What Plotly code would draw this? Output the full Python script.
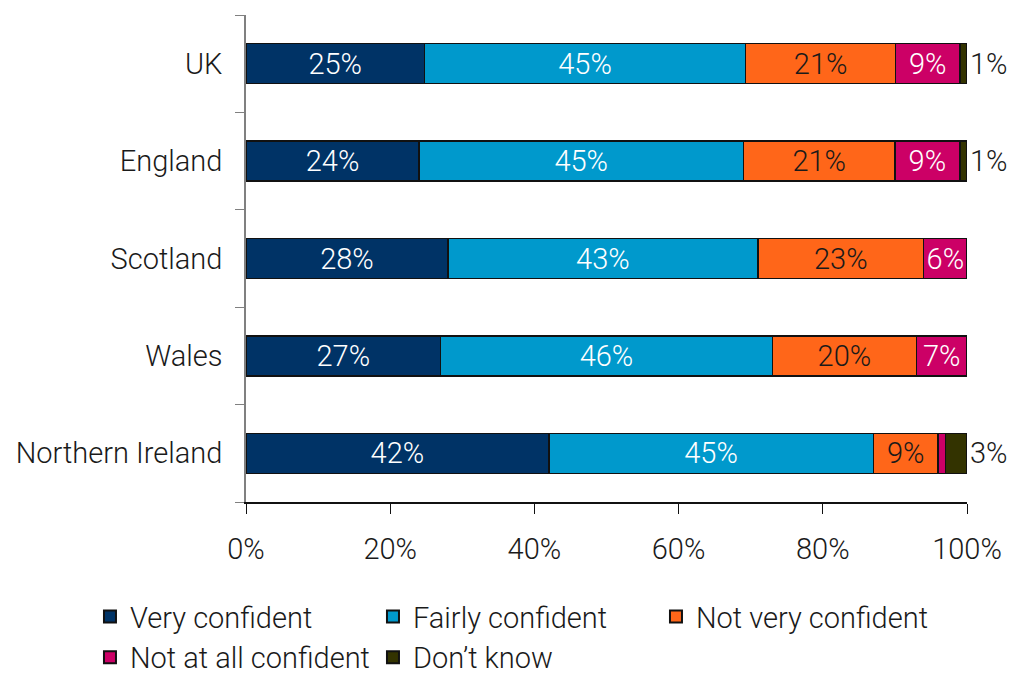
import plotly.graph_objects as go

regions = ["UK", "England", "Scotland", "Wales", "Northern Ireland"]

very_confident = [25, 24, 28, 27, 42]
fairly_confident = [45, 45, 43, 46, 45]
not_very_confident = [21, 21, 23, 20, 9]
not_at_all_confident = [9, 9, 6, 7, 1]
dont_know = [1, 1, 0, 0, 3]

series = [
    ("Very confident", very_confident, "#003366", "white", [True] * 5),
    ("Fairly confident", fairly_confident, "#0099CC", "white", [True] * 5),
    ("Not very confident", not_very_confident, "#FF6619", "#1a1a1a", [True] * 5),
    ("Not at all confident", not_at_all_confident, "#CC0066", "white", [True, True, True, True, False]),
    ("Don\u2019t know", dont_know, "#333300", "#1a1a1a", [True, True, False, False, True]),
]

FONT = "Roboto, 'Liberation Sans', Arial, sans-serif"
TXT = "#1a1a1a"
SIZE = 29

fig = go.Figure()
for name, vals, color, tcolor, show in series:
    labels = [f"{v}%" if s else "" for v, s in zip(vals, show)]
    is_last = name.startswith("Don")
    fig.add_trace(go.Bar(
        name=name,
        y=regions,
        x=vals,
        orientation="h",
        marker=dict(color=color, line=dict(color="#111111", width=1.5)),
        text=labels,
        textposition="outside" if is_last else "inside",
        insidetextanchor="middle",
        textangle=0,
        constraintext="none",
        cliponaxis=False,
        textfont=dict(family=FONT, size=SIZE, color=tcolor, weight=300),
        outsidetextfont=dict(family=FONT, size=SIZE, color=TXT, weight=300),
        hoverinfo="skip",
    ))

fig.update_layout(
    barmode="stack",
    barnorm="percent",
    bargap=0.59,
    width=1023,
    height=678,
    margin=dict(l=246, r=56, t=15, b=176, autoexpand=False),
    plot_bgcolor="white",
    paper_bgcolor="white",
    font=dict(family=FONT, size=SIZE, color=TXT, weight=300),
    legend=dict(
        orientation="h",
        x=-0.2164,
        xanchor="left",
        y=-0.183,
        yanchor="top",
        entrywidth=238,
        entrywidthmode="pixels",
        traceorder="normal",
        font=dict(family=FONT, size=SIZE, color=TXT, weight=300),
        itemsizing="constant",
        tracegroupgap=0,
    ),
    xaxis=dict(
        range=[0, 100],
        dtick=20,
        ticksuffix="%",
        showgrid=False,
        zeroline=False,
        showline=True,
        linecolor="#111111",
        linewidth=1.5,
        ticks="outside",
        ticklen=10,
        tickcolor="#111111",
        tickfont=dict(family=FONT, size=SIZE, color=TXT, weight=300),
        ticklabelstandoff=10,
    ),
    yaxis=dict(
        categoryorder="array",
        categoryarray=regions[::-1],
        autorange=True,
        showgrid=False,
        showline=True,
        linecolor="#808080",
        linewidth=1.5,
        ticks="outside",
        tickson="boundaries",
        ticklen=9,
        tickcolor="#808080",
        tickfont=dict(family=FONT, size=SIZE, color=TXT, weight=300),
        ticklabelstandoff=16,
    ),
)

fig.write_html("out.html")
